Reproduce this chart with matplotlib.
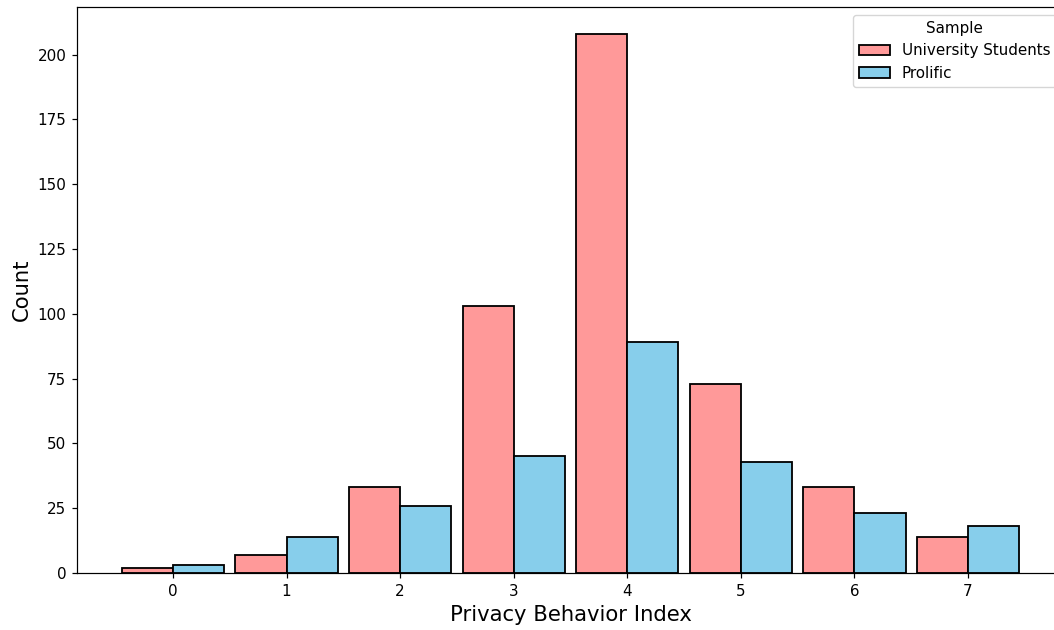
import matplotlib
matplotlib.use("Agg")
import matplotlib.pyplot as plt
import numpy as np

index_values = [0, 1, 2, 3, 4, 5, 6, 7]
university_counts = [2, 7, 33, 103, 208, 73, 33, 14]
prolific_counts = [3, 14, 26, 45, 89, 43, 23, 18]
series_names = ["University Students", "Prolific"]
series_colors = ["#FF9999", "#87CEEB"]

W, H = 1054, 630
fig = plt.figure(figsize=(W / 100, H / 100), dpi=100)
left, right, bottom, top = 77, 1064, 573, 7
ax = fig.add_axes([left / W, 1 - bottom / H, (right - left) / W, (bottom - top) / H])

s = 1.09
x = np.array(index_values, dtype=float)
bw = 0.45
ax.bar(x - bw / 2, university_counts, width=bw, color=series_colors[0],
       edgecolor="black", linewidth=1.2 * s, label=series_names[0])
ax.bar(x + bw / 2, prolific_counts, width=bw, color=series_colors[1],
       edgecolor="black", linewidth=1.2 * s, label=series_names[1])

ax.set_xlim(-0.845, 7.845)
ax.set_ylim(0, 218.4)
ax.set_xticks(index_values)
ax.set_yticks([0, 25, 50, 75, 100, 125, 150, 175, 200])
ax.tick_params(labelsize=10 * s, length=3.5 * s, width=0.8 * s, pad=3.5 * s)
for sp in ax.spines.values():
    sp.set_linewidth(0.8 * s)
ax.set_xlabel("Privacy Behavior Index", fontsize=14 * s, labelpad=4 * s)
ax.set_ylabel("Count", fontsize=14 * s, labelpad=4 * s)

ax.legend(title="Sample", loc="upper right", fontsize=10 * s, title_fontsize=10 * s)

fig.savefig("out.png", dpi=100)
